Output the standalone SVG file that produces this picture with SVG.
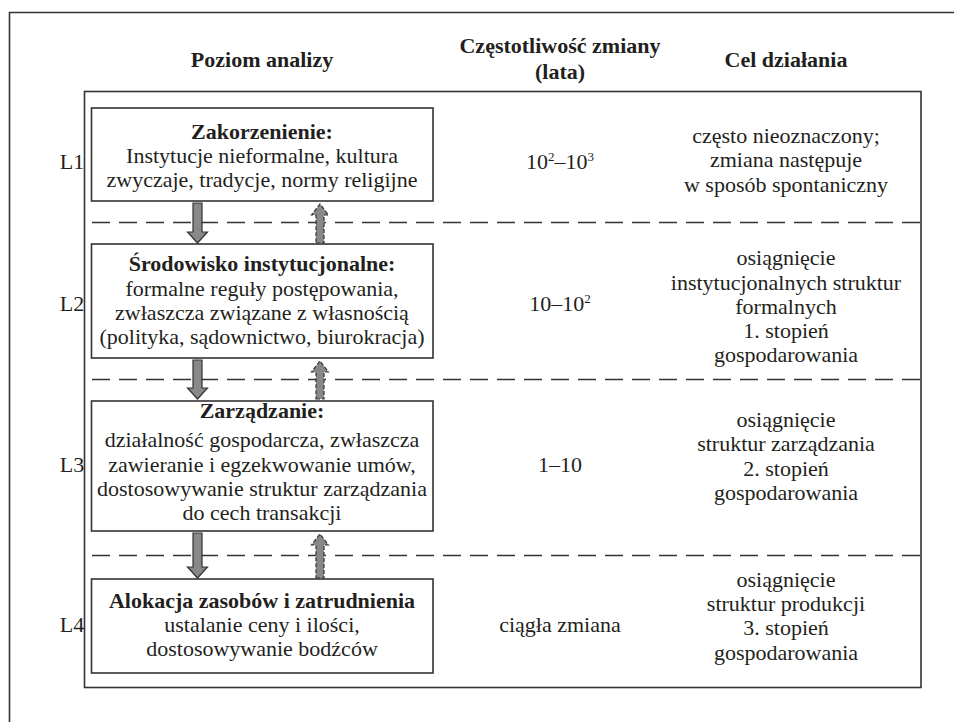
<svg xmlns="http://www.w3.org/2000/svg" width="954" height="722" viewBox="0 0 954 722">
<style>
text{font-family:"Liberation Serif","Times New Roman",serif;fill:#231f20;text-anchor:middle;font-size:22px}
.b{font-weight:bold}
.h{font-weight:bold;font-size:22px}
.frame{fill:none;stroke:#333;stroke-width:1.6}
.box{fill:#fff;stroke:#333;stroke-width:1.6}
.dash{stroke:#333;stroke-width:1.4;stroke-dasharray:18 9;fill:none}
.down{fill:#888;stroke:#333;stroke-width:1.2}
.up{fill:#888;stroke:#333;stroke-width:1.2;stroke-dasharray:4 2}
</style>
<path class="frame" d="M9.5 722 V12.5 H954"/>
<g id="headers">
<text class="h" x="262" y="67">Poziom analizy</text>
<text class="h" x="560" y="53">Częstotliwość zmiany</text>
<text class="h" x="560" y="79">(lata)</text>
<text class="h" x="786" y="67">Cel działania</text>
</g>
<rect id="table" class="frame" x="84.5" y="91.5" width="836.5" height="596"/>
<g id="connectors">
<line class="dash" x1="92" y1="222.5" x2="921" y2="222.5"/>
<line class="dash" x1="92" y1="379.5" x2="921" y2="379.5"/>
<line class="dash" x1="92" y1="555.5" x2="921" y2="555.5"/>
<polygon class="down" points="193,203 202,203 202,232 207.5,232 197.5,243 187.5,232 193,232"/>
<polygon class="up" points="316,243 324,243 324,215 328.5,215 320,204 311.5,215 316,215"/>
<polygon class="down" points="193,360 202,360 202,388 207.5,388 197.5,399 187.5,388 193,388"/>
<polygon class="up" points="316,399 324,399 324,372 328.5,372 320,361 311.5,372 316,372"/>
<polygon class="down" points="193,533 202,533 202,567 207.5,567 197.5,578 187.5,567 193,567"/>
<polygon class="up" points="316,578 324,578 324,545 328.5,545 320,534 311.5,545 316,545"/>
</g>
<g id="L1">
<text x="72" y="169">L1</text>
<rect class="box" x="91.5" y="108" width="341.5" height="93"/>
<text class="b" x="262" y="139">Zakorzenienie:</text>
<text x="262" y="163">Instytucje nieformalne, kultura</text>
<text x="262" y="187">zwyczaje, tradycje, normy religijne</text>
<text x="560" y="169">10<tspan font-size="13" dy="-8">2</tspan><tspan dy="8">–10</tspan><tspan font-size="13" dy="-8">3</tspan></text>
<text x="786" y="143">często nieoznaczony;</text>
<text x="786" y="167">zmiana następuje</text>
<text x="786" y="192">w sposób spontaniczny</text>
</g>
<g id="L2">
<text x="72" y="311">L2</text>
<rect class="box" x="91.5" y="244" width="341.5" height="114"/>
<text class="b" x="262" y="271">Środowisko instytucjonalne:</text>
<text x="262" y="296">formalne reguły postępowania,</text>
<text x="262" y="320">zwłaszcza związane z własnością</text>
<text x="262" y="344">(polityka, sądownictwo, biurokracja)</text>
<text x="560" y="311">10–10<tspan font-size="13" dy="-8">2</tspan></text>
<text x="786" y="265">osiągnięcie</text>
<text x="786" y="290">instytucjonalnych struktur</text>
<text x="786" y="314">formalnych</text>
<text x="786" y="338">1. stopień</text>
<text x="786" y="362">gospodarowania</text>
</g>
<g id="L3">
<text x="72" y="472">L3</text>
<rect class="box" x="91.5" y="401" width="341.5" height="130"/>
<text class="b" x="262" y="418">Zarządzanie:</text>
<text x="262" y="447">działalność gospodarcza, zwłaszcza</text>
<text x="262" y="472">zawieranie i egzekwowanie umów,</text>
<text x="262" y="496">dostosowywanie struktur zarządzania</text>
<text x="262" y="520">do cech transakcji</text>
<text x="560" y="472">1–10</text>
<text x="786" y="427">osiągnięcie</text>
<text x="786" y="451">struktur zarządzania</text>
<text x="786" y="476">2. stopień</text>
<text x="786" y="500">gospodarowania</text>
</g>
<g id="L4">
<text x="72" y="632">L4</text>
<rect class="box" x="91.5" y="579" width="341.5" height="94"/>
<text class="b" x="262" y="608">Alokacja zasobów i zatrudnienia</text>
<text x="262" y="632">ustalanie ceny i ilości,</text>
<text x="262" y="656">dostosowywanie bodźców</text>
<text x="560" y="632">ciągła zmiana</text>
<text x="786" y="587">osiągnięcie</text>
<text x="786" y="611">struktur produkcji</text>
<text x="786" y="635">3. stopień</text>
<text x="786" y="660">gospodarowania</text>
</g>
</svg>
